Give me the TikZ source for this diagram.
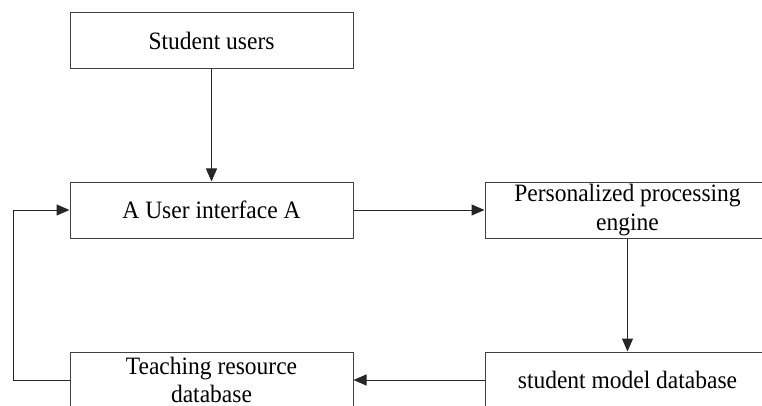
\documentclass[tikz,border=0pt]{standalone}
\usepackage{fontspec}
\setmainfont[FakeStretch=0.94]{Liberation Serif}
\usetikzlibrary{arrows.meta}
\begin{document}
\begin{tikzpicture}[x=1pt,y=-1pt,
  box/.style={draw=black!75, line width=1pt, minimum width=283pt, minimum height=56pt,
    inner sep=0pt, align=center, font=\fontsize{25}{28.5}\selectfont},
  wbox/.style={box, minimum width=285pt},
  arr/.style={draw=black!85, line width=1pt, -{Triangle[length=13pt,width=11pt]}}]
\clip (0,0) rectangle (762,406);
\fill[white] (0,0) rectangle (762,406);
\node[box] (su) at (211.5,40.5) {Student users};
\node[box] (ui) at (211.5,210) {A User interface A};
\node[wbox] (pe) at (627.5,210) {Personalized processing\\engine};
\node[wbox] (sm) at (627.5,380) {student model database};
\node[box] (tr) at (211.5,380) {Teaching resource\\database};
\coordinate (loop) at (13,380);
\draw[arr] (su) -- (ui);
\draw[arr] (ui) -- (pe);
\draw[arr] (pe) -- (sm);
\draw[arr] (sm) -- (tr);
\draw[arr] (tr.west) -- (loop) |- (ui.west);
\end{tikzpicture}
\end{document}
